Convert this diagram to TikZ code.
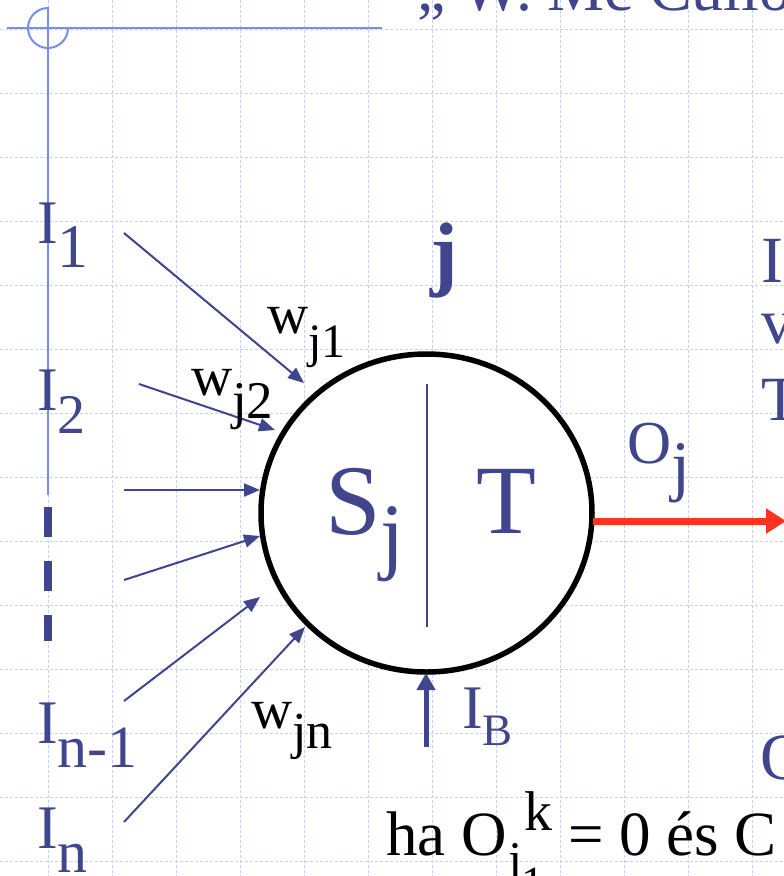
\documentclass[tikz,border=0pt]{standalone}
\usepackage{fontspec}
\setmainfont{Liberation Serif}
\usetikzlibrary{arrows.meta,shapes.geometric}
\definecolor{dblue}{RGB}{64,69,140}
\definecolor{lblue}{RGB}{118,142,240}
\definecolor{gridc}{RGB}{196,208,250}
\definecolor{redc}{RGB}{255,51,34}
\newcommand\fs[1]{\fontsize{#1}{#1}\selectfont}
\begin{document}
\begin{tikzpicture}[x=1pt,y=-1pt,
  lbl/.style={inner sep=0,outer sep=0,anchor=base west,text=dblue},
  blk/.style={inner sep=0,outer sep=0,anchor=base west,text=black},
  inarrow/.style={draw=dblue,line width=2pt,-{Triangle[length=16pt,width=13pt]}},
  gridline/.style={gridc,line width=1pt,dash pattern=on 3pt off 2pt}]
\useasboundingbox (0,0) rectangle (784,876);
\fill[white] (0,0) rectangle (784,876);
% background grid
\foreach \gx in {48,112,...,752} \draw[gridline] (\gx,0) -- (\gx,876);
\foreach \gy in {29.5,93.5,...,861.5} \draw[gridline] (0,\gy) -- (784,\gy);
% slide rules
\draw[lblue,line width=2pt] (7,28) -- (382,28);
\draw[lblue,line width=2pt] (48,7) -- (48,495);
\draw[lblue,line width=2pt] (48,8) arc[start angle=90,end angle=360,radius=20pt];
\draw[dblue,line width=8pt,dash pattern=on 30pt off 24pt] (48,507) -- (48,641);
% title (cut off by the top edge)
\node[lbl] (title) at (417,10) {\fs{64}„ W. Mc Culloch};
% neuron
\node[ellipse,draw=black,fill=white,line width=5.5pt,minimum width=331pt,minimum height=318pt,inner sep=0] (n) at (426.5,513) {};
\coordinate (dtop) at (427,384);
\coordinate (dbot) at (427,627);
\draw[dblue,line width=2pt] (dtop) -- (dbot);
\node[lbl] (S) at (325,534) {\fs{100}S\raisebox{-29pt}{\fs{86}j}};
\node[lbl] (T) at (476.5,533) {\fs{98}T};
\node[lbl] (jb) at (430.7,280) {\fs{83}\bfseries j};
% inputs
\node[lbl] (i1) at (37,243) {\fs{62}I\raisebox{-24pt}{1}};
\node[lbl] (i2) at (37,410) {\fs{62}I\raisebox{-23pt}{\fs{56}2}};
\node[lbl] (in1) at (37,743) {\fs{62}I\raisebox{-24pt}{\fs{60}n-1}};
\node[lbl] (in) at (37,848) {\fs{62}I\raisebox{-24pt}{\fs{60}n}};
\coordinate (s1) at (124,233); \coordinate (e1) at (304,383);
\coordinate (s2) at (139,384); \coordinate (e2) at (275,430);
\coordinate (s3) at (124,490); \coordinate (e3) at (260,490);
\coordinate (s4) at (124,580); \coordinate (e4) at (260,536);
\coordinate (s5) at (124,701); \coordinate (e5) at (260,597);
\coordinate (s6) at (124,822); \coordinate (e6) at (305,627);
\draw[inarrow] (s1) -- (e1);
\draw[inarrow] (s2) -- (e2);
\draw[inarrow] (s3) -- (e3);
\draw[inarrow] (s4) -- (e4);
\draw[inarrow] (s5) -- (e5);
\draw[inarrow] (s6) -- (e6);
% weights
\node[blk] (w1) at (267,333) {\fs{57}w\raisebox{-24pt}{\fs{48}j1}};
\node[blk] (w2) at (191,395) {\fs{57}w\raisebox{-23pt}{\fs{53}j2}};
\node[blk] (wn) at (251,728) {\fs{57}w\raisebox{-20pt}{\fs{52}jn}};
% bias
\coordinate (bs) at (426,747); \coordinate (be) at (426,673);
\draw[dblue,line width=5pt,-{Triangle[length=17pt,width=18pt]}] (bs) -- (be);
\node[lbl] (ib) at (462,728) {\fs{62}I\raisebox{-17pt}{\fs{45}B}};
% output
\coordinate (os) at (593,521); \coordinate (oe) at (786,521);
\draw[redc,line width=7pt,-{Triangle[length=20pt,width=24pt]}] (os) -- (oe);
\node[lbl] (oj) at (627,463) {\fs{61}O\raisebox{-25pt}{\fs{68}j}};
% right column (cut off)
\node[lbl] (r1) at (761,282) {\fs{66}I};
\node[lbl] (r2) at (761,343) {\fs{64}v};
\node[lbl] (r3) at (761,420) {\fs{63}T};
\node[lbl] (r4) at (760,779) {\fs{66}O};
% bottom formula line
\node[blk] (ha) at (386,855) {\fs{63}ha O};
\node[blk] (sup) at (524.6,830) {\fs{56}k};
\node[blk] (subj) at (508,876) {\fs{50}j};
\node[blk] (sub1) at (521,898) {\fs{46}1};
\node[blk] (rest) at (568,855) {\fs{63}= 0 és C};
\end{tikzpicture}
\end{document}
